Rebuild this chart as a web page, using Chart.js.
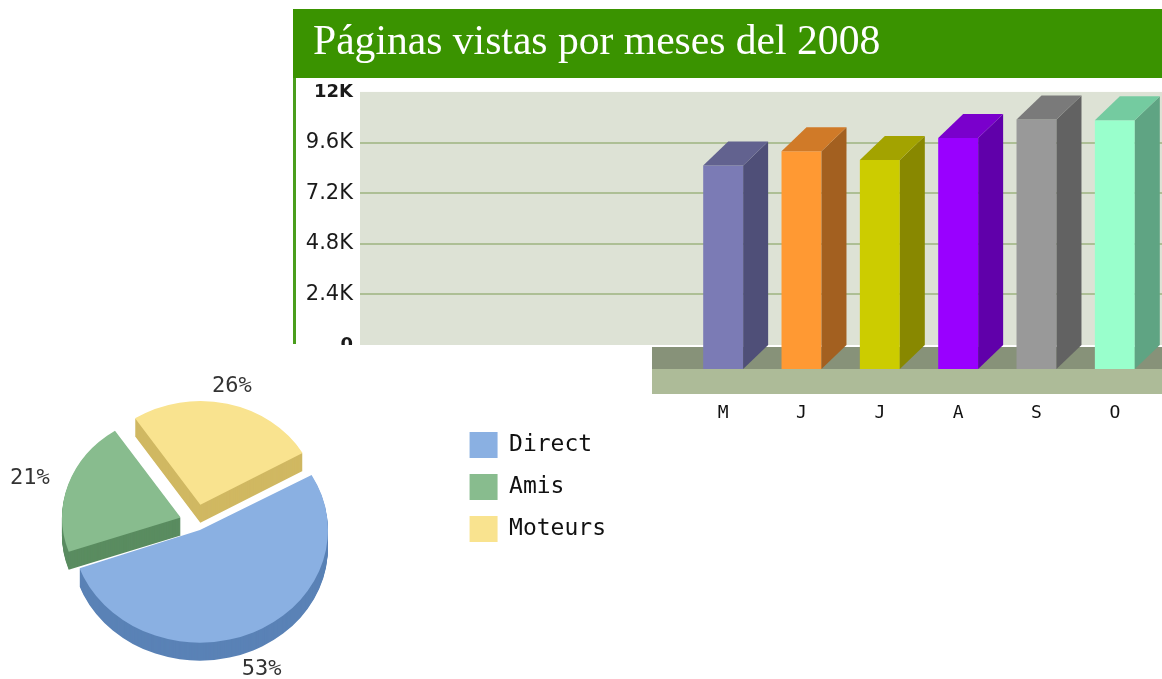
<!DOCTYPE html>
<html>
<head>
<meta charset="utf-8">
<script src="https://cdn.jsdelivr.net/npm/chart.js@4.4.1/dist/chart.umd.min.js"></script>
<style>
  html, body { margin: 0; padding: 0; background: #fff; }
  body { width: 1162px; height: 679px; position: relative; overflow: hidden; }
  #barBox { position: absolute; left: 293px; top: 0; width: 869px; height: 430px; }
  #pieBox { position: absolute; left: 0; top: 345px; width: 652px; height: 334px; overflow: hidden; background: #fff; z-index: 2; }
  #pieBox canvas { position: absolute; left: -62px; top: 0; }
</style>
</head>
<body>
<div id="barBox"><canvas id="barChart" width="869" height="430"></canvas></div>
<div id="pieBox"><canvas id="pieChart" width="714" height="334"></canvas></div>
<script>
// Datos: páginas vistas por mes (2008)
const months = ['M', 'J', 'J', 'A', 'S', 'O'];
const pageViews = [9650, 10330, 9910, 10950, 11830, 11800];
const yMax = 12000;
const yStep = 2400;

// Datos: sources de trafic (%)
const trafficSources = ['Direct', 'Amis', 'Moteurs'];
const trafficShare = [53, 21, 26];

// Colores
const barFront = ['#7b7bb5', '#ff9933', '#cccc00', '#9900ff', '#999999', '#99ffcc'];
const barSide = ['#4f4f78', '#a36020', '#888800', '#6000aa', '#626262', '#5fa483'];
const barTop = ['#62628f', '#d07a28', '#a3a300', '#7a00cc', '#7a7a7a', '#74cba0'];
const pieTop = ['#8ab0e2', '#88bc8e', '#f9e38f'];
const pieSide = ['#5a82b6', '#5a8c60', '#d0b862'];
const pieOffsets = [40, 64, 80];   // Chart.js v4 desplaza offset/4 px

const DX = 25, DY = 24;     // profundidad 3D de las barras
const PIE_K = 0.88;          // aplastado vertical del pastel
const PIE_DEPTH = 18;        // grosor del pastel

const formatK = (v) => v === 0 ? '0' : (v / 1000) + 'K';

// --- Bar chart 3D ---
const bar3d = {
    id: 'bar3d',
    beforeDraw(chart) {
        const { ctx, width } = chart;
        ctx.save();
        ctx.fillStyle = '#3a9300';
        ctx.fillRect(0, 9, width, 69);
        ctx.fillStyle = '#4a9e1c';
        ctx.fillRect(0, 78, 3, 266);
        ctx.restore();
    },
    beforeDatasetsDraw(chart) {
        const { ctx, width } = chart;
        const y = chart.scales.y;
        const base = y.getPixelForValue(0);
        const top = y.getPixelForValue(yMax) - DY;
        const wallLeft = 67;
        ctx.save();
        ctx.fillStyle = '#dde2d5';
        ctx.fillRect(wallLeft, top, width - wallLeft, base - DY - top);
        ctx.strokeStyle = '#adbf95';
        ctx.lineWidth = 2;
        y.ticks.forEach(t => {
            if (t.value <= 0 || t.value >= yMax) return;
            const py = Math.round(y.getPixelForValue(t.value) - DY);
            ctx.beginPath();
            ctx.moveTo(wallLeft, py);
            ctx.lineTo(width, py);
            ctx.stroke();
        });
        // suelo
        ctx.fillStyle = '#879279';
        ctx.fillRect(wallLeft, base - DY + 2, width - wallLeft, DY - 2);
        ctx.fillStyle = '#adbb98';
        ctx.fillRect(wallLeft, base, width - wallLeft, 25);

        // etiquetas del eje Y sobre la pared del fondo
        ctx.fillStyle = '#1a1a1a';
        ctx.textAlign = 'right';
        ctx.textBaseline = 'middle';
        y.ticks.forEach(t => {
            const edge = t.value === 0 || t.value === yMax;
            ctx.font = edge ? 'bold 18px "DejaVu Sans", Verdana, sans-serif'
                            : '21px "DejaVu Sans", Verdana, sans-serif';
            ctx.fillText(formatK(t.value), wallLeft - 7, y.getPixelForValue(t.value) - DY);
        });
        ctx.restore();
    },
    afterDatasetsDraw(chart) {
        const { ctx } = chart;
        const meta = chart.getDatasetMeta(0);
        ctx.save();
        meta.data.forEach((bar, i) => {
            const x0 = bar.x - bar.width / 2, x1 = bar.x + bar.width / 2;
            const yt = bar.y, yb = bar.base;
            // lateral
            ctx.fillStyle = barSide[i];
            ctx.beginPath();
            ctx.moveTo(x1, yt);
            ctx.lineTo(x1 + DX, yt - DY);
            ctx.lineTo(x1 + DX, yb - DY);
            ctx.lineTo(x1, yb);
            ctx.closePath();
            ctx.fill();
            // tapa
            ctx.fillStyle = barTop[i];
            ctx.beginPath();
            ctx.moveTo(x0, yt);
            ctx.lineTo(x0 + DX, yt - DY);
            ctx.lineTo(x1 + DX, yt - DY);
            ctx.lineTo(x1, yt);
            ctx.closePath();
            ctx.fill();
        });
        ctx.restore();
    }
};

new Chart(document.getElementById('barChart'), {
    type: 'bar',
    data: {
        labels: months,
        datasets: [{
            label: 'Páginas vistas',
            data: pageViews,
            backgroundColor: barFront,
            borderWidth: 0,
            barPercentage: 0.51,
            categoryPercentage: 1
        }]
    },
    options: {
        responsive: false,
        animation: false,
        layout: { padding: { left: 20, right: 8, top: 0, bottom: 0 } },
        plugins: {
            legend: { display: false },
            tooltip: { enabled: false },
            title: {
                display: true,
                text: 'Páginas vistas por meses del 2008',
                align: 'start',
                color: '#ffffff',
                font: { family: '"Liberation Serif", "Times New Roman", serif', size: 41.6, weight: 'normal' },
                padding: { top: 18, bottom: 48 }
            }
        },
        scales: {
            x: {
                afterFit(scale) { scale.height = 61; },
                grid: { display: false, drawTicks: false },
                border: { display: false },
                ticks: {
                    padding: 34,
                    color: '#111',
                    font: { family: '"DejaVu Sans Mono", monospace', size: 18 }
                }
            },
            y: {
                min: 0,
                max: yMax,
                afterFit(scale) { scale.width = 371; },
                grid: { display: false, drawTicks: false },
                border: { display: false },
                ticks: { display: false, stepSize: yStep, callback: formatK }
            }
        }
    },
    plugins: [bar3d]
});

// --- Pie chart 3D ---
const pie3d = {
    id: 'pie3d',
    beforeDatasetsDraw(chart) {
        const { ctx } = chart;
        const arcs = chart.getDatasetMeta(0).data;
        const cx = arcs[0].x, cy = arcs[0].y;
        ctx.save();
        ctx.translate(cx, cy);
        ctx.scale(1, PIE_K);
        ctx.translate(-cx, -cy);
        for (let d = PIE_DEPTH; d >= 1; d--) {
            arcs.forEach((arc, i) => {
                const side = Object.create(arc);
                side.options = Object.assign({}, arc.options, {
                    backgroundColor: pieSide[i], borderColor: pieSide[i], borderWidth: 0
                });
                ctx.save();
                ctx.translate(0, d / PIE_K);
                side.draw(ctx);
                ctx.restore();
            });
        }
    },
    afterDatasetsDraw(chart) {
        const { ctx } = chart;
        ctx.restore();
        const arcs = chart.getDatasetMeta(0).data;
        const total = trafficShare.reduce((a, b) => a + b, 0);
        ctx.save();
        ctx.fillStyle = '#333';
        ctx.font = '22px "DejaVu Sans Mono", monospace';
        ctx.textBaseline = 'middle';
        arcs.forEach((arc, i) => {
            const mid = (arc.startAngle + arc.endAngle) / 2;
            const shift = (arc.options.offset || 0) / 4;
            const grow = arc.circumference >= Math.PI ? shift : 0;
            const r = arc.outerRadius + shift + grow + 20;
            const c = Math.cos(mid), s = Math.sin(mid);
            const x = arc.x + c * r;
            const y = arc.y + s * r * PIE_K + (s > 0 ? PIE_DEPTH + 3 : 0);
            ctx.textAlign = c < -0.5 ? 'right' : (c > 0.5 ? 'left' : 'center');
            ctx.fillText(Math.round(trafficShare[i] / total * 100) + '%', x, y);
        });
        ctx.restore();
    }
};

new Chart(document.getElementById('pieChart'), {
    type: 'pie',
    data: {
        labels: trafficSources,
        datasets: [{
            data: trafficShare,
            backgroundColor: pieTop,
            borderColor: pieTop,
            borderWidth: 0,
            offset: pieOffsets,
            hoverOffset: 0
        }]
    },
    options: {
        responsive: false,
        animation: false,
        radius: 118,
        rotation: 60,
        layout: { padding: { top: 71, bottom: 51, left: 0, right: 36 } },
        plugins: {
            tooltip: { enabled: false },
            legend: {
                position: 'right',
                align: 'start',
                labels: {
                    color: '#111',
                    font: { family: '"DejaVu Sans Mono", monospace', size: 23 },
                    boxWidth: 28,
                    boxHeight: 26,
                    padding: 16
                }
            }
        }
    },
    plugins: [pie3d]
});
</script>
</body>
</html>
